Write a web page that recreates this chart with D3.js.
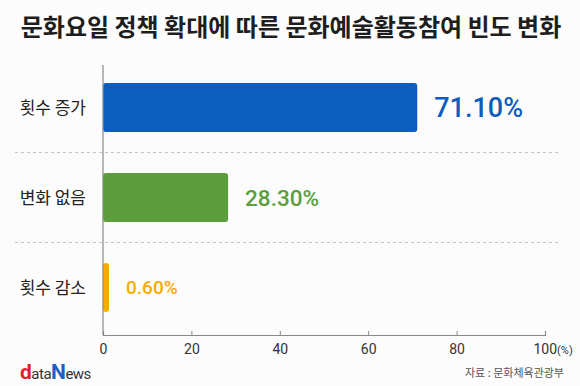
<!DOCTYPE html>
<html>
<head>
<meta charset="utf-8">
<script src="https://cdn.jsdelivr.net/npm/d3@7"></script>
<style>
  body { margin: 0; background: #fcfcfc; }
  svg { display: block; font-family: "Noto Sans CJK KR", "Noto Sans", sans-serif; }
</style>
</head>
<body>
<div id="chart"></div>
<script>
const categories = ['횟수 증가', '변화 없음', '횟수 감소'];
const values = [71.1, 28.3, 0.6];
const valueLabels = ['71.10%', '28.30%', '0.60%'];
const colors = ['#0c5dbd', '#5b9e3b', '#f7ab06'];
const labelSizes = [27, 22.5, 19];
const ticks = [0, 20, 40, 60, 80, 100];

const width = 580;
const height = 386;

const svg = d3.select('#chart')
  .append('svg')
  .attr('width', width)
  .attr('height', height);

svg.append('rect').attr('width', width).attr('height', height).attr('fill', '#fcfcfc');

// title
svg.append('text')
  .attr('x', 291)
  .attr('y', 36)
  .attr('text-anchor', 'middle')
  .style('font-size', '24px')
  .style('font-weight', 'bold')
  .style('fill', '#1e1e1e')
  .text('문화요일 정책 확대에 따른 문화예술활동참여 빈도 변화');

const x = d3.scaleLinear().domain([0, 100]).range([103, 545]);
const y = d3.scaleBand().domain(categories).range([62.5, 332.5]).padding(0);
const barH = y.bandwidth() * 0.545;

// dashed separators
svg.selectAll('line.sep')
  .data(categories.slice(1))
  .enter()
  .append('line')
  .attr('class', 'sep')
  .attr('x1', 15)
  .attr('x2', 560)
  .attr('y1', d => y(d))
  .attr('y2', d => y(d))
  .attr('stroke', '#c4c4c4')
  .attr('stroke-dasharray', '3,3');

// bars
svg.selectAll('rect.bar')
  .data(values)
  .enter()
  .append('rect')
  .attr('class', 'bar')
  .attr('x', x(0))
  .attr('y', (d, i) => y(categories[i]) + (y.bandwidth() - barH) / 2)
  .attr('width', d => Math.max(x(d) - x(0), 6))
  .attr('height', barH)
  .attr('rx', 3)
  .attr('fill', (d, i) => colors[i]);

// value labels
svg.selectAll('text.value')
  .data(values)
  .enter()
  .append('text')
  .attr('class', 'value')
  .attr('x', d => x(0) + Math.max(x(d) - x(0), 6) + 17)
  .attr('y', (d, i) => y(categories[i]) + y.bandwidth() / 2)
  .attr('dy', '0.36em')
  .style('font-family', 'Roboto, sans-serif')
  .style('font-weight', '500')
  .style('font-size', (d, i) => labelSizes[i] + 'px')
  .style('fill', (d, i) => colors[i])
  .text((d, i) => valueLabels[i]);

// category labels
svg.selectAll('text.cat')
  .data(categories)
  .enter()
  .append('text')
  .attr('class', 'cat')
  .attr('x', 86)
  .attr('y', d => y(d) + y.bandwidth() / 2)
  .attr('dy', '0.36em')
  .attr('text-anchor', 'end')
  .style('font-size', '17px')
  .style('fill', '#222')
  .text(d => d);

// vertical baseline
svg.append('line')
  .attr('x1', x(0)).attr('x2', x(0))
  .attr('y1', 65).attr('y2', 335)
  .attr('stroke', '#888').attr('stroke-width', 1.2);

// x axis
const axis = svg.append('g')
  .attr('transform', 'translate(0,335)')
  .call(d3.axisBottom(x).tickValues(ticks).tickSize(-4).tickPadding(9).tickFormat(d => d));

axis.select('.domain').attr('stroke', '#888').attr('stroke-width', 1.2);
axis.selectAll('.tick line').attr('stroke', '#888');
axis.selectAll('.tick text')
  .style('font-family', 'Roboto, sans-serif')
  .style('font-size', '14px')
  .style('fill', '#333');

axis.selectAll('.tick')
  .filter(d => d === 100)
  .select('text')
  .attr('text-anchor', 'start')
  .attr('dx', '-12')
  .text('100')
  .append('tspan')
  .style('font-size', '11px')
  .text('(%)');

// source
svg.append('text')
  .attr('x', 564)
  .attr('y', 377)
  .attr('text-anchor', 'end')
  .style('font-size', '11px')
  .style('fill', '#555')
  .text('자료 : 문화체육관광부');

// logo
const logo = svg.append('text')
  .attr('x', 20)
  .attr('y', 379)
  .style('font-family', 'Roboto, sans-serif')
  .style('font-size', '15px')
  .style('letter-spacing', '-0.5px')
  .style('fill', '#333');
logo.append('tspan').style('fill', '#e3202a').style('font-weight', 'bold').style('font-size', '21px').text('d');
logo.append('tspan').text('ata');
logo.append('tspan').style('fill', '#1a5fc4').style('font-weight', 'bold').style('font-size', '21px').text('N');
logo.append('tspan').text('ews');
</script>
</body>
</html>
